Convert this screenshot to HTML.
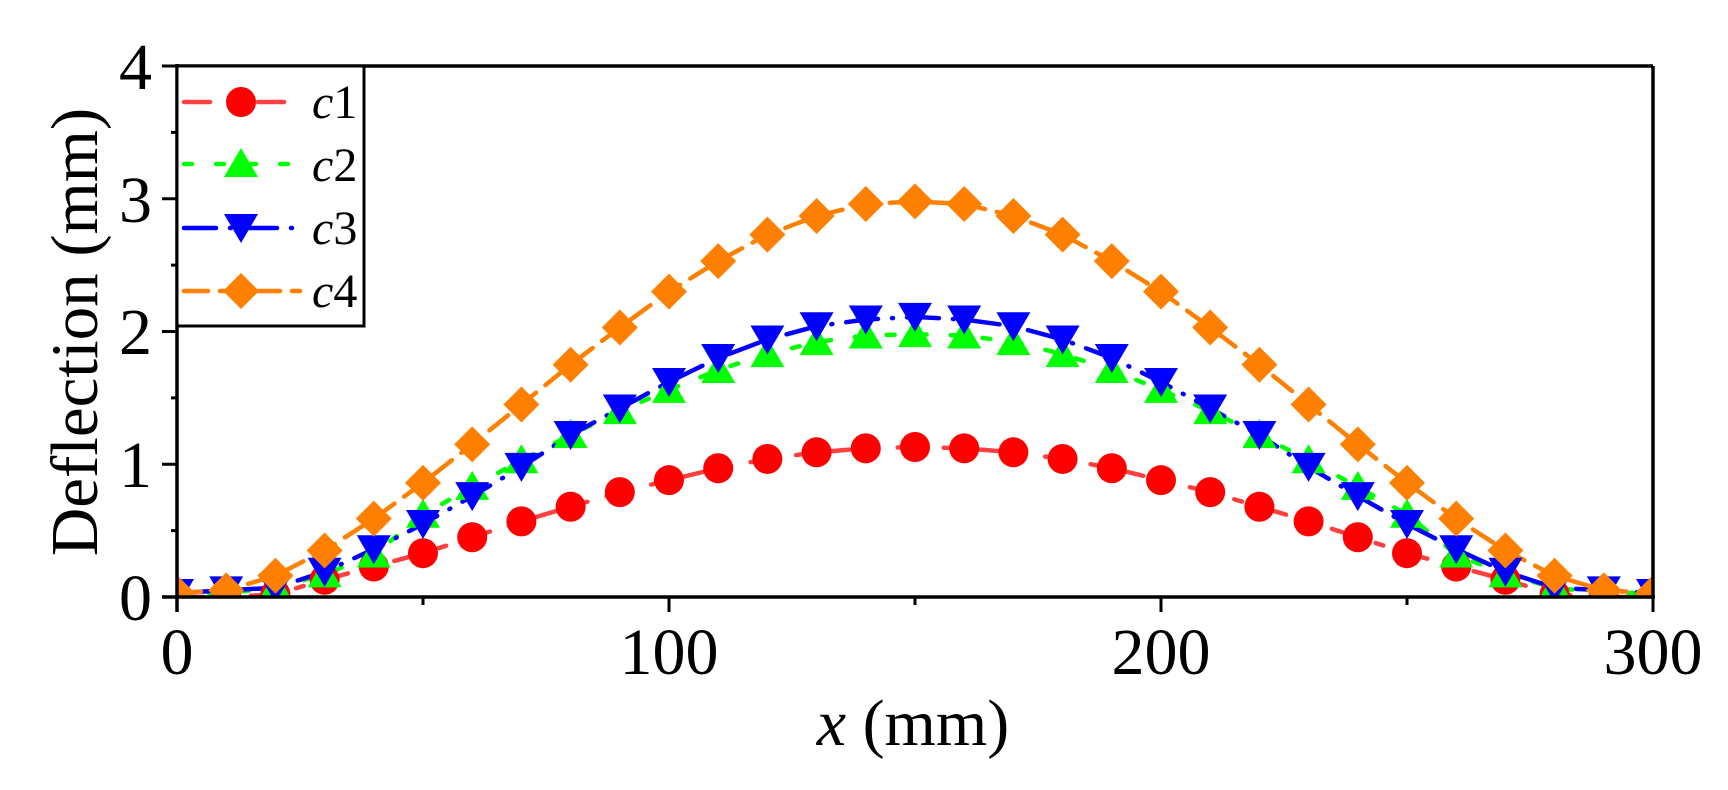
<!DOCTYPE html>
<html><head><meta charset="utf-8"><style>
html,body{margin:0;padding:0;background:#fff;}
svg{display:block;}
text{font-family:"Liberation Serif","Times New Roman",Times,serif;fill:#000;}
</style></head><body>
<svg width="1728" height="790" viewBox="0 0 1728 790" xmlns="http://www.w3.org/2000/svg" font-family="Liberation Serif, Times New Roman, serif">
<defs>
<clipPath id="pa"><rect x="177" y="66" width="1476" height="531"/></clipPath>
<symbol id="ci" overflow="visible"><circle r="15" fill="#ff0000"/></symbol>
<symbol id="tu" overflow="visible"><polygon points="0,-18 17,11 -17,11" fill="#00ff00"/></symbol>
<symbol id="td" overflow="visible"><polygon points="-17,-14 17,-14 0,15" fill="#0000ff"/></symbol>
<symbol id="di" overflow="visible"><polygon points="0,-18 18,0 0,18 -18,0" fill="#ff8000"/></symbol>
</defs>
<g id="data" clip-path="url(#pa)"></g>
<g stroke="#000" stroke-width="3.5" fill="none">
<line x1="177" y1="66" x2="1653" y2="66"/>
<line x1="1653" y1="66" x2="1653" y2="597"/>
<line x1="177" y1="64" x2="177" y2="612"/>
<line x1="162" y1="597" x2="1655" y2="597"/>
</g>
<g stroke="#000" stroke-width="3" id="ticks"></g>
<rect x="177" y="66" width="187" height="260" fill="#fff" stroke="#000" stroke-width="3"/>
<g stroke-width="4.5" fill="none" stroke-linecap="round">
<line x1="184" y1="102" x2="300" y2="102" stroke="#ff4040" stroke-dasharray="26 20 8 20"/>
<line x1="184" y1="164" x2="300" y2="164" stroke="#00ff00" stroke-dasharray="8 24"/>
<line x1="184" y1="228" x2="300" y2="228" stroke="#0000ff" stroke-dasharray="32 14 1 14"/>
<line x1="184" y1="291" x2="300" y2="291" stroke="#ff8000" stroke-dasharray="24 12"/>
</g>
<use href="#ci" x="241" y="102"/>
<use href="#tu" x="241" y="166"/>
<use href="#td" x="241" y="228"/>
<use href="#di" x="241" y="291"/>
<g font-size="48" font-family="Liberation Serif, serif">
<text x="312" y="118"><tspan font-style="italic">c</tspan>1</text>
<text x="312" y="181"><tspan font-style="italic">c</tspan>2</text>
<text x="312" y="244"><tspan font-style="italic">c</tspan>3</text>
<text x="312" y="307"><tspan font-style="italic">c</tspan>4</text>
</g>
<g font-size="66" text-anchor="end" font-family="Liberation Serif, serif">
<text x="152" y="620">0</text>
<text x="152" y="487">1</text>
<text x="152" y="354">2</text>
<text x="152" y="222">3</text>
<text x="152" y="89">4</text>
</g>
<g font-size="66" text-anchor="middle" font-family="Liberation Serif, serif">
<text x="177" y="674">0</text>
<text x="669" y="674">100</text>
<text x="1161" y="674">200</text>
<text x="1653" y="674">300</text>
</g>
<text x="913" y="745" font-size="66" text-anchor="middle" font-family="Liberation Serif, serif"><tspan font-style="italic">x</tspan> (mm)</text>
<text transform="translate(97,332) rotate(-90)" font-size="67" text-anchor="middle" font-family="Liberation Serif, serif">Deflection (mm)</text>
<script>
(function(){
var X=function(v){return 177+v*4.92;},Y=function(v){return 597-v*132.75;};
var half1=[0,0.0,0.02,0.13,0.23,0.33,0.45,0.57,0.68,0.79,0.88,0.97,1.04,1.09,1.12,1.13];
var half2=[0.03,0.03,0.07,0.17,0.32,0.62,0.83,1.03,1.22,1.40,1.56,1.71,1.83,1.92,1.97,1.98];
var half3=[0.03,0.05,0.07,0.19,0.36,0.55,0.76,0.98,1.22,1.42,1.62,1.80,1.94,2.04,2.09,2.11];
var half4=[0.03,0.05,0.16,0.35,0.59,0.86,1.15,1.45,1.75,2.03,2.30,2.53,2.73,2.87,2.96,2.98];
function full(h){var a=h.slice();for(var i=14;i>=0;i--)a.push(h[i]);return a;}
var S=[[full(half1),"#ff4040","26 20 8 20","ci"],[full(half2),"#00ff00","8 24","tu"],[full(half3),"#0000ff","32 14 1 14","td"],[full(half4),"#ff8000","24 12","di"]];
var ns="http://www.w3.org/2000/svg",g=document.getElementById("data");
S.forEach(function(s){
 var pts=s[0].map(function(v,i){return X(i*10)+","+Y(v);}).join(" ");
 var pl=document.createElementNS(ns,"polyline");
 pl.setAttribute("points",pts);pl.setAttribute("fill","none");pl.setAttribute("stroke",s[1]);
 pl.setAttribute("stroke-width","4.5");pl.setAttribute("stroke-dasharray",s[2]);pl.setAttribute("stroke-linecap","round");
 g.appendChild(pl);
});
S.forEach(function(s){
 s[0].forEach(function(v,i){
  var u=document.createElementNS(ns,"use");u.setAttribute("href","#"+s[3]);
  u.setAttribute("x",X(i*10));u.setAttribute("y",Y(v)+(s[3]=="tu"?2:0));g.appendChild(u);
 });
});
var t=document.getElementById("ticks");
function L(x1,y1,x2,y2){var l=document.createElementNS(ns,"line");l.setAttribute("x1",x1);l.setAttribute("y1",y1);l.setAttribute("x2",x2);l.setAttribute("y2",y2);t.appendChild(l);}
for(var i=0;i<=6;i++){var x=X(i*50);L(x,597,x,i%2?605:612);}
for(var j=0;j<=8;j++){var y=Y(j*0.5);L(177,y,j%2?171:162,y);}
})();
</script>
</svg>
</body></html>
